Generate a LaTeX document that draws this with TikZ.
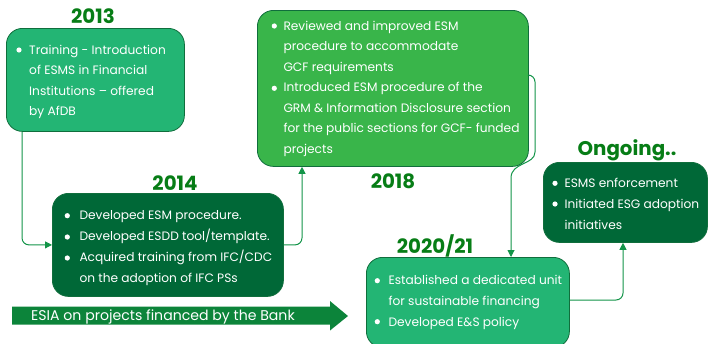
\documentclass[tikz,border=0pt]{standalone}
\usepackage{fontspec}
\setmainfont{Poppins}
\usetikzlibrary{arrows.meta,calc}
\definecolor{cTeal}{RGB}{35,181,116}
\definecolor{cGreen}{RGB}{57,181,74}
\definecolor{cDark}{RGB}{0,104,55}
\definecolor{cBorder}{RGB}{16,110,60}
\definecolor{cYear}{RGB}{7,125,22}
\definecolor{cArrow}{RGB}{12,132,58}
\definecolor{cConn}{RGB}{18,148,72}
\begin{document}
\begin{tikzpicture}[x=1pt,y=-1pt,
  box/.style={draw=cBorder,line width=0.8pt,rounded corners=16pt,inner sep=0pt,anchor=north west},
  yr/.style={text=cYear,inner sep=0pt,font=\fontsize{19.8}{20}\selectfont\bfseries},
  ln/.style={anchor=base west,inner sep=0pt,text=white,font=\fontsize{12.2}{14}\selectfont},
  bul/.style={fill=white},
  conn/.style={draw=cConn,line width=1pt,rounded corners=7pt,-{Triangle[length=7pt,width=7pt]}}]
\useasboundingbox (0,0) rectangle (708,343);

% boxes
\node[box,fill=cTeal,minimum width=178pt,minimum height=103pt] (b13) at (6,28) {};
\node[box,fill=cGreen,minimum width=271pt,minimum height=156pt] (b18) at (257,10) {};
\node[box,fill=cDark,minimum width=231pt,minimum height=103pt] (b14) at (52,193) {};
\node[box,fill=cTeal,minimum width=203pt,minimum height=90pt] (b20) at (366,257) {};
\node[box,fill=cDark,minimum width=164pt,minimum height=80pt] (bon) at (543,162) {};

% years
\node[yr] (y13) at (93,16) {2013};
\node[yr] (y18) at (393,181) {2018};
\node[yr] (y14) at (175,183) {2014};
\node[yr] (y20) at (435,246) {2020/21};
\node[yr] (yon) at (627,150) {Ongoing..};

% 2013 text
\fill[bul] (19,50) circle (2.6pt);
\node[ln] (t13a) at (29,54.3) {Training - Introduction};
\node[ln] (t13b) at (29,74.8) {of ESMS in Financial};
\node[ln] (t13c) at (29,95.3) {Institutions -- offered};
\node[ln] (t13d) at (29,115.8) {by AfDB};

% 2018 text
\fill[bul] (274.3,26) circle (2.6pt);
\fill[bul] (274.3,88.3) circle (2.6pt);
\node[ln] (t18a) at (283.3,30) {Reviewed and improved ESM};
\node[ln] (t18b) at (283.3,50.5) {procedure to accommodate};
\node[ln] (t18c) at (283.3,71) {GCF requirements};
\node[ln] (t18d) at (283.3,91.8) {Introduced ESM procedure of the};
\node[ln] (t18e) at (283.3,112.3) {GRM \& Information Disclosure section};
\node[ln] (t18f) at (283.3,132.8) {for the public sections for GCF- funded};
\node[ln] (t18g) at (283.3,153.3) {projects};

% 2014 text
\fill[bul] (67.3,215.7) circle (2.6pt);
\fill[bul] (67.3,237) circle (2.6pt);
\fill[bul] (67.3,258) circle (2.6pt);
\node[ln] (t14a) at (79.3,219.3) {Developed ESM procedure.};
\node[ln] (t14b) at (79.3,240.5) {Developed ESDD tool/template.};
\node[ln] (t14c) at (79.3,261.5) {Acquired training from IFC/CDC};
\node[ln] (t14d) at (79.3,282) {on the adoption of IFC PSs};

% 2020/21 text
\fill[bul] (377.3,280.7) circle (2.6pt);
\fill[bul] (377.3,321.7) circle (2.6pt);
\node[ln] (t20a) at (388.3,284.3) {Established a dedicated unit};
\node[ln] (t20b) at (388.3,305) {for sustainable financing};
\node[ln] (t20c) at (388.3,326) {Developed E\&S policy};

% Ongoing text
\fill[bul] (555,183.3) circle (2.6pt);
\fill[bul] (555,204) circle (2.6pt);
\node[ln] (tona) at (564.3,187.3) {ESMS enforcement};
\node[ln] (tonb) at (564.3,208.3) {Initiated ESG adoption};
\node[ln] (tonc) at (564.3,229) {initiatives};

% ESIA arrow
\fill[cArrow] (12,306.5) -- (330,306.5) -- (330,301) -- (348,316) -- (330,330.5) -- (330,324.5) -- (12,324.5) -- cycle;
\node[ln,font=\fontsize{14.1}{16}\selectfont] (esia) at (31,320.7) {ESIA on projects financed by the Bank};

% connectors
\draw[conn] ($(b13.south west)+(16,0)$) |- (b14.west);
\draw[conn] (b14.east) -| ($(b18.south west)+(45,0)$);
\draw[conn] ($(b18.north east)+(0,65)$) -- (535,75) -- (535,145) .. controls (535,165) and (511,162) .. (511,185) -- ($(b20.north west)+(145,0)$);
\draw[conn] ($(b20.north east)+(0,43)$) -| ($(bon.south west)+(80,0)$);
\end{tikzpicture}
\end{document}
